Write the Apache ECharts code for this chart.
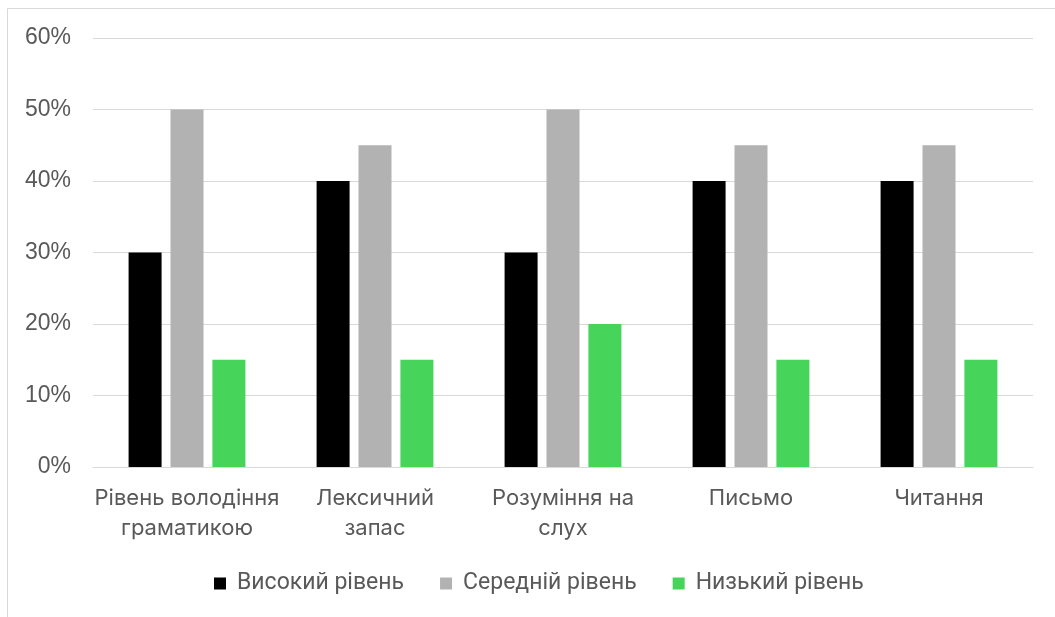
<!DOCTYPE html>
<html>
<head>
<meta charset="utf-8">
<script src="https://cdn.jsdelivr.net/npm/echarts@6/dist/echarts.min.js"></script>
<style>
html,body{margin:0;padding:0;background:#fff;}
#c{width:1055px;height:617px;}
</style>
</head>
<body>
<div id="c"></div>
<script>
const categories = ["Рівень володіння\nграматикою", "Лексичний\nзапас", "Розуміння на\nслух", "Письмо", "Читання"];
const seriesNames = ["Високий рівень", "Середній рівень", "Низький рівень"];
const high = [30, 40, 30, 40, 40];
const medium = [50, 45, 50, 45, 45];
const low = [15, 15, 20, 15, 15];
const yTicks = [0, 10, 20, 30, 40, 50, 60];
const colors = ["#000000", "#b2b2b2", "#47d45a"];

const chart = echarts.init(document.getElementById('c'), null, {renderer: 'canvas'});
const values = [high, medium, low];
chart.setOption({
  animation: false,
  color: colors,
  graphic: [{
    type: 'polyline',
    shape: {points: [[7.5, 617], [7.5, 8.5], [1055, 8.5]]},
    style: {stroke: '#d9d9d9', lineWidth: 1, fill: null},
    silent: true
  }],
  grid: {left: 93, right: 22, top: 38, bottom: 150, containLabel: false},
  legend: {
    data: seriesNames,
    top: 567,
    left: 209,
    icon: 'rect',
    itemWidth: 12,
    itemHeight: 12,
    itemGap: 36,
    textStyle: {fontFamily: 'Roboto', fontSize: 23, color: '#595959', padding: [0, 0, 0, 6]}
  },
  xAxis: {
    type: 'category',
    data: categories,
    axisTick: {show: false},
    axisLine: {lineStyle: {color: '#d9d9d9', width: 1}},
    axisLabel: {fontFamily: 'Inter', fontSize: 22, color: '#595959', lineHeight: 30, margin: 16, interval: 0}
  },
  yAxis: {
    type: 'value',
    min: yTicks[0],
    max: yTicks[yTicks.length - 1],
    interval: 10,
    axisLine: {show: false},
    axisTick: {show: false},
    splitLine: {lineStyle: {color: '#d9d9d9', width: 1}},
    axisLabel: {formatter: v => v + '%', fontFamily: 'Liberation Sans', fontSize: 23, color: '#595959', margin: 22}
  },
  series: seriesNames.map((n, i) => ({
    name: n,
    type: 'bar',
    data: values[i],
    barWidth: 33,
    barGap: '27%',
    itemStyle: {color: colors[i]}
  }))
});
</script>
</body>
</html>
